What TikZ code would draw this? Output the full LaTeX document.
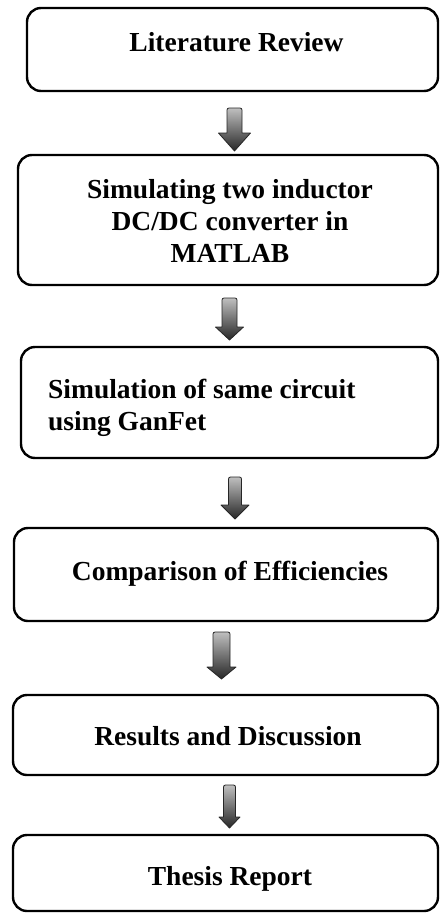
\documentclass[tikz,border=0pt]{standalone}
\usepackage{fontspec}
\setmainfont{Liberation Serif}
\begin{document}
\begin{tikzpicture}[x=1pt,y=-1pt,
  box/.style={draw=black,line width=2.4pt,rounded corners=14pt,inner sep=0pt,outer sep=0pt},
  lbl/.style={font=\fontsize{27.5}{32}\selectfont\bfseries,inner sep=0pt,anchor=base},
  barrow/.style={draw=black!85,line width=0.8pt,top color=black!25,bottom color=black!85,line join=round}
]
\useasboundingbox (0,0) rectangle (440,913);
% boxes (named nodes, size from corner coordinates)
\node[box,minimum width=411pt,minimum height=83pt] (b1) at (232.5,49.5) {};
\node[box,minimum width=420pt,minimum height=130pt] (b2) at (228,220) {};
\node[box,minimum width=417pt,minimum height=111pt] (b3) at (229.5,402.5) {};
\node[box,minimum width=424pt,minimum height=93pt] (b4) at (226,574.5) {};
\node[box,minimum width=425pt,minimum height=80pt] (b5) at (225.5,735) {};
\node[box,minimum width=425pt,minimum height=76pt] (b6) at (225.5,873) {};
% texts
\node[lbl] (t1) at (236.5,51) {Literature Review};
\node[lbl] (t2a) at (230,198) {Simulating two inductor};
\node[lbl] (t2b) at (230,230) {DC/DC converter in};
\node[lbl] (t2c) at (230,262) {MATLAB};
\node[lbl,anchor=base west] (t3a) at (48,398) {Simulation of same circuit};
\node[lbl,anchor=base west] (t3b) at (48,430) {using GanFet};
\node[lbl] (t4) at (230,580) {Comparison of Efficiencies};
\node[lbl] (t5) at (228,745) {Results and Discussion};
\node[lbl] (t6) at (230,885) {Thesis Report};
% block arrows: cx, top, shaft half, head half, head start, tip
\newcommand{\blockarr}[6]{%
  \path[barrow] (#1-#3,#2+2) [rounded corners=2pt] -- (#1-#3,#2) -- (#1+#3,#2) [sharp corners] -- (#1+#3,#5)
    -- (#1+#4,#5) -- (#1,#6) -- (#1-#4,#5) -- (#1-#3,#5) -- cycle;}
\blockarr{234.5}{108}{7.5}{16}{133}{151}
\blockarr{229.5}{298}{7.5}{14}{327}{340}
\blockarr{235}{477}{6.5}{14}{505}{519}
\blockarr{221.5}{632}{8.5}{14.5}{667}{679}
\blockarr{229.5}{785}{6}{10.5}{817}{828}
\end{tikzpicture}
\end{document}
